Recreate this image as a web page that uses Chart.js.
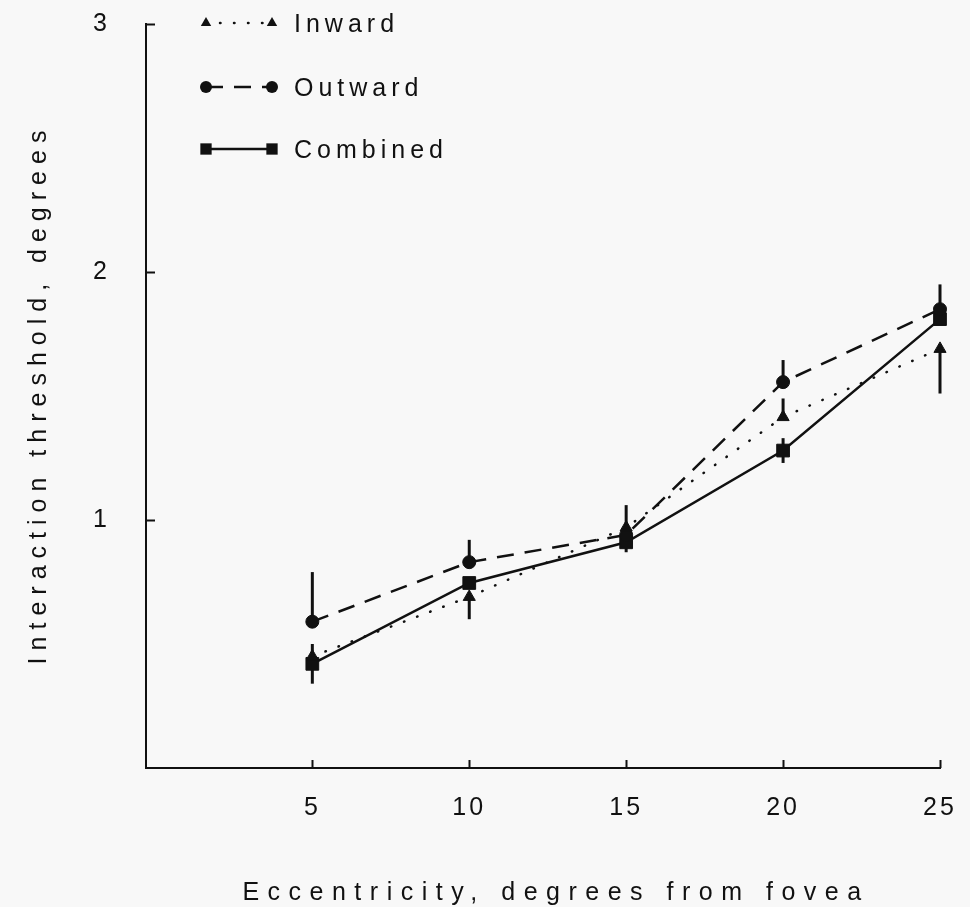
<!DOCTYPE html>
<html>
<head>
<meta charset="utf-8">
<title>Interaction threshold vs eccentricity</title>
<script src="https://cdn.jsdelivr.net/npm/chart.js@4.4.1/dist/chart.umd.min.js"></script>
<style>
  html, body { margin: 0; padding: 0; background: #f8f8f8; }
  #wrap { width: 970px; height: 907px; }
</style>
</head>
<body>
<div id="wrap"><canvas id="chart" width="970" height="907"></canvas></div>
<script>
// Eccentricity (degrees from fovea)
const eccentricity = [5, 10, 15, 20, 25];

// Interaction thresholds (degrees)
const inward   = [0.45, 0.69, 0.97, 1.415, 1.69];
const outward  = [0.59, 0.83, 0.94, 1.556, 1.85];
const combined = [0.42, 0.746, 0.91, 1.28, 1.81];

// Error bar ends (one-sided bars; null = no bar)
const inwardUpper   = [0.50, null, 1.06, 1.49, null];
const inwardLower   = [null, 0.60, null, null, 1.51];
const outwardUpper  = [0.79, 0.92, null, 1.645, 1.95];
const outwardLower  = [null, null, null, null, null];
const combinedUpper = [null, null, null, 1.33, null];
const combinedLower = [0.34, null, 0.87, 1.23, null];

// Axis tick labels
const xTickValues = [5, 10, 15, 20, 25];
const yTickValues = [1, 2, 3];

const seriesNames = ['Inward', 'Outward', 'Combined'];
const xTitle = 'Eccentricity, degrees from fovea';
const yTitle = 'Interaction threshold, degrees';

const INK = '#111';
const BG = '#f8f8f8';
const FONT = '"Liberation Sans", Arial, Helvetica, sans-serif';

const styles = [
  { dash: [0.5, 13.5], cap: 'round', point: 'triangle', radius: 7 },
  { dash: [17, 11],    cap: 'butt',  point: 'circle',   radius: 6.5 },
  { dash: [],          cap: 'butt',  point: 'rect',     radius: 9 }
];
const seriesValues = [inward, outward, combined];
const seriesUpper = [inwardUpper, outwardUpper, combinedUpper];
const seriesLower = [inwardLower, outwardLower, combinedLower];

function marker(ctx, style, r, x, y) {
  ctx.beginPath();
  if (style === 'triangle') {
    ctx.moveTo(x, y - r);
    ctx.lineTo(x + r * Math.sin(2 * Math.PI / 3), y + r * 0.5);
    ctx.lineTo(x - r * Math.sin(2 * Math.PI / 3), y + r * 0.5);
    ctx.closePath();
  } else if (style === 'circle') {
    ctx.arc(x, y, r, 0, Math.PI * 2);
  } else {
    const s = r * Math.SQRT1_2;
    ctx.rect(x - s, y - s, 2 * s, 2 * s);
  }
  ctx.fill();
}

// keep the plot box fixed: no extra room reserved for overhanging labels
function fixBox(size, horizontal) {
  return s => {
    if (horizontal) s.height = size; else s.width = size;
    s.paddingTop = 0; s.paddingBottom = 0; s.paddingLeft = 0; s.paddingRight = 0;
  };
}

const decorations = {
  id: 'decorations',
  beforeDraw(chart) {
    const ctx = chart.ctx;
    ctx.save();
    ctx.fillStyle = BG;
    ctx.fillRect(0, 0, chart.width, chart.height);
    ctx.restore();
    ctx.letterSpacing = '3px';
  },
  beforeDatasetsDraw(chart) {
    const ctx = chart.ctx;
    const xs = chart.scales.x, ys = chart.scales.y;
    ctx.save();
    ctx.strokeStyle = INK;
    ctx.lineWidth = 3;
    ctx.lineCap = 'butt';
    seriesValues.forEach((vals, s) => {
      vals.forEach((v, i) => {
        const px = xs.getPixelForValue(eccentricity[i]);
        [seriesUpper[s][i], seriesLower[s][i]].forEach(end => {
          if (end === null) return;
          ctx.beginPath();
          ctx.moveTo(px, ys.getPixelForValue(v));
          ctx.lineTo(px, ys.getPixelForValue(end));
          ctx.stroke();
        });
      });
    });
    ctx.restore();
  },
  afterDraw(chart) {
    const ctx = chart.ctx;
    const xs = chart.scales.x, ys = chart.scales.y;
    const area = chart.chartArea;
    ctx.save();
    // inward-pointing tick marks
    ctx.strokeStyle = INK;
    ctx.lineWidth = 2;
    yTickValues.forEach(v => {
      const py = Math.round(ys.getPixelForValue(v)) + 0.5;
      ctx.beginPath();
      ctx.moveTo(area.left, py);
      ctx.lineTo(area.left + 9, py);
      ctx.stroke();
    });
    xTickValues.forEach(v => {
      const px = Math.round(xs.getPixelForValue(v)) + 0.5;
      ctx.beginPath();
      ctx.moveTo(px, area.bottom);
      ctx.lineTo(px, area.bottom - 8);
      ctx.stroke();
    });

    // axis titles
    ctx.fillStyle = INK;
    ctx.font = '25px ' + FONT;
    ctx.textBaseline = 'alphabetic';
    ctx.textAlign = 'center';
    ctx.letterSpacing = '8.5px';
    ctx.fillText(xTitle, 556, 900);
    ctx.save();
    ctx.translate(46, 394);
    ctx.rotate(-Math.PI / 2);
    ctx.letterSpacing = '7px';
    ctx.fillText(yTitle, 0, 0);
    ctx.restore();

    // legend
    const rows = [23, 87, 149];
    ctx.letterSpacing = '5px';
    ctx.textAlign = 'left';
    seriesNames.forEach((name, s) => {
      const st = styles[s];
      const y = rows[s];
      const x1 = 206, x2 = 272;
      ctx.save();
      ctx.strokeStyle = INK;
      ctx.lineWidth = 2.5;
      ctx.setLineDash(st.dash);
      ctx.lineCap = st.cap;
      ctx.beginPath();
      ctx.moveTo(x1, y);
      ctx.lineTo(x2, y);
      ctx.stroke();
      ctx.restore();
      ctx.fillStyle = INK;
      const r = st.point === 'triangle' ? 6 : (st.point === 'circle' ? 6 : 8);
      marker(ctx, st.point, r, x1, y);
      marker(ctx, st.point, r, x2, y);
      ctx.fillText(name, 294, y + 9);
    });
    ctx.restore();
    ctx.letterSpacing = '0px';
  }
};

const datasets = seriesNames.map((name, s) => ({
  label: name,
  data: eccentricity.map((x, i) => ({ x: x, y: seriesValues[s][i] })),
  borderColor: INK,
  borderWidth: 2.5,
  borderDash: styles[s].dash,
  borderCapStyle: styles[s].cap,
  pointStyle: styles[s].point,
  pointRadius: styles[s].radius,
  pointBackgroundColor: INK,
  pointBorderColor: INK,
  pointBorderWidth: 1,
  tension: 0,
  fill: false,
  clip: false
}));

new Chart(document.getElementById('chart'), {
  type: 'line',
  data: { datasets: datasets },
  options: {
    responsive: false,
    animation: false,
    layout: { autoPadding: false, padding: { top: 24, right: 30, left: 0, bottom: 0 } },
    plugins: { legend: { display: false }, tooltip: { enabled: false } },
    scales: {
      x: {
        type: 'linear',
        min: -0.3,
        max: 25,
        afterBuildTicks: s => { s.ticks = xTickValues.map(v => ({ value: v })); },
        afterFit: fixBox(139, true),
        grid: { display: false, drawTicks: false },
        border: { display: true, color: INK, width: 2 },
        ticks: { padding: 25, autoSkip: false, maxRotation: 0, color: INK, font: { family: FONT, size: 25 } }
      },
      y: {
        type: 'linear',
        min: 0,
        max: 3,
        afterBuildTicks: s => { s.ticks = yTickValues.map(v => ({ value: v })); },
        afterFit: fixBox(146, false),
        grid: { display: false, drawTicks: false },
        border: { display: true, color: INK, width: 2 },
        ticks: { padding: 36, color: INK, font: { family: FONT, size: 25 } }
      }
    }
  },
  plugins: [decorations]
});
</script>
</body>
</html>
